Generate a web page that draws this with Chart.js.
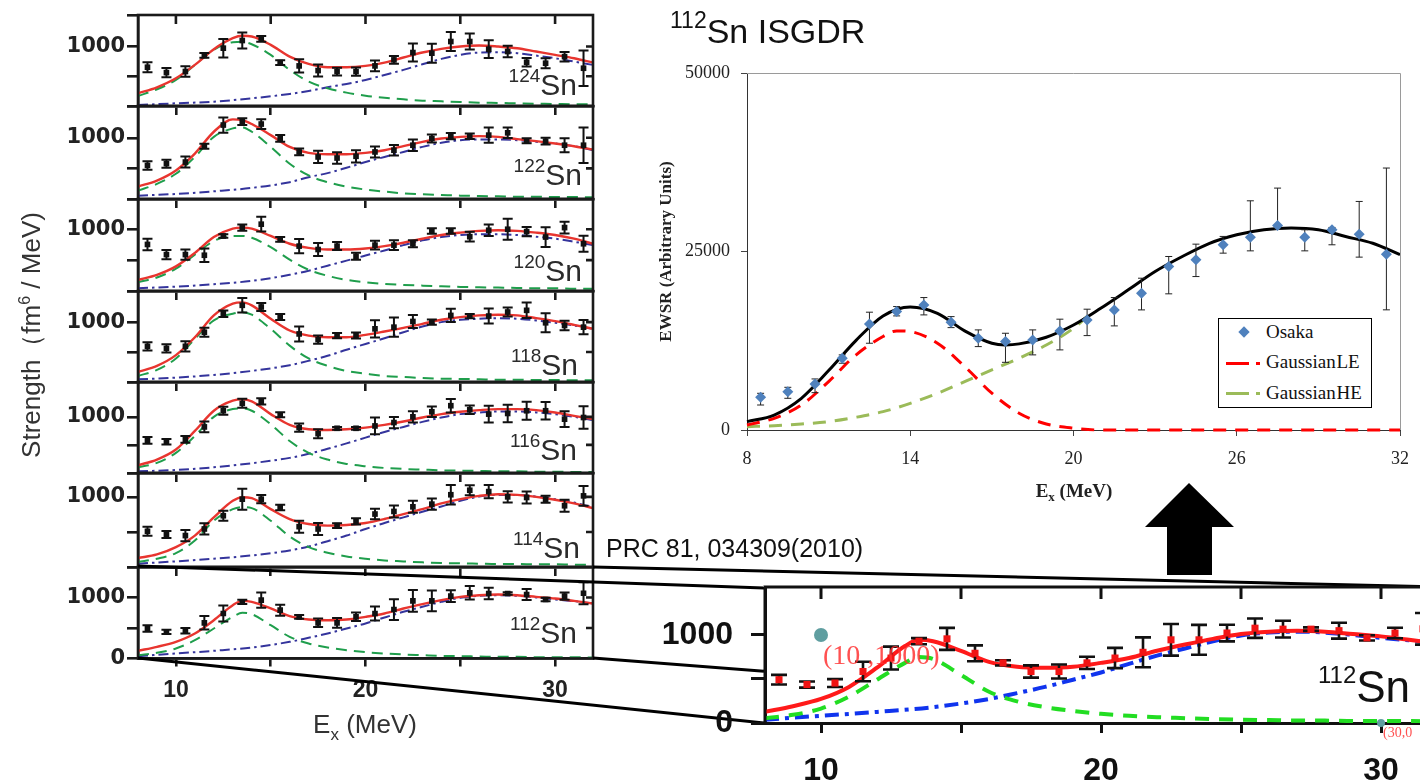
<!DOCTYPE html>
<html>
<head>
<meta charset="utf-8">
<title>112Sn ISGDR</title>
<script src="https://cdn.jsdelivr.net/npm/chart.js@4.4.1/dist/chart.umd.min.js"></script>
<style>
  html, body { margin:0; padding:0; background:#fff; }
  body { position:relative; width:1420px; height:783px; overflow:hidden; font-family:'Liberation Sans', Arial, sans-serif; }
  .abs { position:absolute; white-space:nowrap; }
  canvas { position:absolute; display:block; }
  .iso { position:absolute; width:100px; text-align:right; font-size:30px; line-height:30px; color:#2b2b2b; white-space:nowrap; z-index:4; }
  .iso sup { font-size:19px; vertical-align:13px; line-height:0; }
</style>
</head>
<body>

<svg class="abs" style="left:0;top:0;z-index:2" width="1420" height="783">
  <line x1="138" y1="566" x2="765" y2="588" stroke="#000" stroke-width="3"/>
  <line x1="593" y1="567" x2="1437" y2="587" stroke="#000" stroke-width="3"/>
  <line x1="593" y1="658" x2="1437" y2="723" stroke="#000" stroke-width="3"/>
  <line x1="138" y1="658" x2="765" y2="723" stroke="#000" stroke-width="3"/>
  <polygon points="1189,483 1234,527 1212,527 1212,575 1167,575 1167,527 1145,527" fill="#000"/>
</svg>

<!-- left figure texts -->
<div class="abs" style="left:31px;top:335px;transform:translate(-50%,-50%) rotate(-90deg);font-size:26px;line-height:26px;color:#333;z-index:4">Strength（fm<sup style="font-size:16px;line-height:0">6</sup> / MeV)</div>
<div class="abs" style="left:265px;width:200px;text-align:center;top:710.5px;font-size:26px;line-height:26px;color:#333;z-index:4">E<sub style="font-size:17px;vertical-align:-7px;line-height:0">x</sub> (MeV)</div>
<div class="iso" style="left:477px;top:69.6px"><sup>124</sup>Sn</div>
<div class="iso" style="left:482px;top:159.6px"><sup>122</sup>Sn</div>
<div class="iso" style="left:482px;top:255.6px"><sup>120</sup>Sn</div>
<div class="iso" style="left:478px;top:349.6px"><sup>118</sup>Sn</div>
<div class="iso" style="left:477px;top:434.6px"><sup>116</sup>Sn</div>
<div class="iso" style="left:480px;top:532.6px"><sup>114</sup>Sn</div>
<div class="iso" style="left:477px;top:617.6px"><sup>112</sup>Sn</div>

<!-- right figure texts -->
<div class="abs" style="left:670px;top:14px;font-size:34px;line-height:34px;color:#111;z-index:4"><sup style="font-size:23px;vertical-align:15px;line-height:0">112</sup>Sn ISGDR</div>
<div class="abs" style="left:974px;width:200px;text-align:center;top:481px;font-family:'Liberation Serif',serif;font-weight:bold;font-size:19px;line-height:19px;color:#222;z-index:4">E<sub style="font-size:13px;vertical-align:-4px;line-height:0">x</sub> (MeV)</div>
<div class="abs" style="left:606px;top:536px;font-size:25px;line-height:25px;color:#111;z-index:4">PRC 81, 034309(2010)</div>

<!-- legend of main chart -->
<div class="abs" style="left:1218px;top:318px;width:154px;height:90px;border:1px solid #000;box-sizing:border-box;background:#fff;z-index:4"></div>
<div class="abs" style="left:1240px;top:328px;width:8px;height:8px;background:#4f81bd;transform:rotate(45deg);z-index:5"></div>
<div class="abs" style="left:1266px;top:322px;font-family:'Liberation Serif',serif;font-size:19px;line-height:19px;color:#111;z-index:5">Osaka</div>
<div class="abs" style="left:1226px;top:361.5px;width:23px;height:3px;background:#ff0000;z-index:5"></div>
<div class="abs" style="left:1256px;top:361.5px;width:4px;height:3px;background:#ff0000;z-index:5"></div>
<div class="abs" style="left:1266px;top:352px;font-family:'Liberation Serif',serif;font-size:19px;line-height:19px;word-spacing:-4px;color:#111;z-index:5">Gaussian LE</div>
<div class="abs" style="left:1226px;top:391.5px;width:23px;height:3px;background:#9bbb59;z-index:5"></div>
<div class="abs" style="left:1256px;top:391.5px;width:4px;height:3px;background:#9bbb59;z-index:5"></div>
<div class="abs" style="left:1266px;top:383px;font-family:'Liberation Serif',serif;font-size:19px;line-height:19px;word-spacing:-4px;color:#111;z-index:5">Gaussian HE</div>

<!-- zoomed panel texts -->
<div class="abs" style="left:1318px;top:665px;font-size:44px;line-height:44px;color:#111;z-index:4"><sup style="font-size:24px;vertical-align:19px;line-height:0">112</sup>Sn</div>
<div class="abs" style="left:823px;top:641px;font-family:'Liberation Serif',serif;font-size:28px;line-height:28px;color:rgba(255,50,50,0.85);z-index:4">(10 ,1000)</div>
<div class="abs" style="left:1383px;top:726px;font-family:'Liberation Serif',serif;font-size:14px;line-height:14px;color:rgba(255,50,50,0.85);z-index:4">(30,0</div>

<script>
// ================= DATA =================
// energies of the measured points (MeV)
const pointEnergies = [8.5,9.5,10.5,11.5,12.5,13.5,14.5,15.5,16.5,17.5,18.5,19.5,20.5,21.5,22.5,23.5,24.5,25.5,26.5,27.5,28.5,29.5,30.5,31.5];
// energies where fitted curves were read
const curveEnergies = [8,9,10,11,12,13,13.5,14,15,16,17,18,19,20,21,22,23,24,25,26,27,28,29,30,31,32];
const highEnergies = [8,10,12,14,16,17,18,19,20,21,22,23,24,25,26,27,28,29,30,31,32];
// tick values
const panelXTicks = [10,15,20,25,30];
const panelYTicks = [0,500,1000];
const panelYMax = [1530,1520,1490,1520,1620,1340,1500];
const isotopeNames = ['124Sn','122Sn','120Sn','118Sn','116Sn','114Sn','112Sn'];

// 124Sn
const sn124Strength = [652,562,580,850,972,1101,1129,730,674,596,579,579,674,775,899,888,1084,1084,955,916,736,719,830,635];
const sn124Error    = [84,79,90,40,155,135,50,40,110,100,65,70,90,65,150,160,160,135,150,95,70,85,80,300];
const sn124Total    = [213,315,466,691,955,1140,1180,1169,1028,831,708,652,652,674,730,815,899,961,1000,1017,1000,972,916,860,803,730];
const sn124Low      = [169,281,438,691,944,1073,1080,1039,860,607,410,298,225,174,140,112,90,79,67,56,51,45,39,34,28,28];
const sn124High     = [17,45,73,129,202,253,315,371,438,522,607,702,792,860,899,904,888,848,803,747,691];
// 122Sn
const sn122Strength = [549,577,604,863,1209,1264,1225,989,769,687,670,698,769,797,879,989,1027,1027,1044,1082,951,945,879,879];
const sn122Error    = [70,65,90,40,125,55,80,55,55,100,95,100,90,85,95,65,50,45,125,85,40,55,115,290];
const sn122Total    = [203,302,467,742,1099,1302,1290,1225,1044,852,753,731,731,753,797,863,934,989,1016,1027,1016,978,945,907,863,808];
const sn122Low      = [137,247,412,687,1016,1154,1170,1099,852,577,385,275,203,154,121,93,77,66,55,49,44,38,38,33,33,27];
const sn122High     = [55,82,126,181,275,357,423,511,604,687,769,852,918,962,973,973,962,934,907,863,797];
// 120Sn
const sn120Strength = [754,590,590,579,891,1027,1082,836,727,672,727,563,743,743,765,973,973,880,984,1000,962,874,1027,765];
const sn120Error    = [93,75,82,110,30,50,120,40,115,105,65,55,70,80,55,45,45,80,95,170,75,160,95,130];
const sn120Total    = [180,262,399,617,874,1011,1027,1011,891,765,699,672,672,689,727,781,847,907,945,973,984,973,945,907,847,765];
const sn120Low      = [142,219,361,590,809,891,891,863,710,508,344,246,180,142,115,98,87,77,66,60,55,49,44,44,38,38];
const sn120High     = [44,71,109,164,262,328,410,492,574,656,743,820,874,907,918,918,907,880,847,798,743];
// 118Sn
const sn118Strength = [596,562,596,831,1140,1281,1253,1084,803,708,775,775,888,916,1011,1000,1112,1101,1101,1169,1197,989,944,916];
const sn118Error    = [70,70,85,75,55,120,65,50,125,70,45,50,145,160,110,45,110,35,125,75,130,160,80,120];
const sn118Total    = [169,270,449,747,1112,1309,1330,1281,1056,860,775,747,747,787,843,904,972,1039,1084,1112,1124,1112,1067,1017,955,888];
const sn118Low      = [101,202,393,719,1028,1140,1165,1124,888,607,393,270,185,140,101,84,67,56,51,45,39,39,34,34,28,28];
const sn118High     = [45,73,118,185,281,354,438,539,635,730,831,927,1000,1039,1056,1067,1056,1028,989,944,888];
// 116Sn
const sn116Strength = [581,557,599,820,1108,1240,1275,1036,808,700,796,796,838,898,1000,1090,1198,1126,1048,1060,1108,1108,958,988];
const sn116Error    = [60,50,60,95,70,80,55,45,75,80,25,25,150,100,100,95,120,75,150,155,160,155,140,200];
const sn116Total    = [138,240,419,749,1108,1287,1310,1275,1048,856,778,766,778,808,856,916,988,1048,1090,1120,1138,1138,1120,1078,1018,958];
const sn116Low      = [102,180,359,659,1000,1138,1150,1108,868,569,359,240,162,120,90,72,60,48,42,36,30,30,24,24,18,18];
const sn116High     = [30,54,102,174,269,341,431,527,629,731,820,910,988,1048,1078,1096,1096,1078,1048,1000,940];
// 114Sn
const sn114Strength = [509,462,448,542,731,967,967,849,575,542,590,651,755,792,858,896,1030,1094,1075,1000,991,967,873,1014];
const sn114Error    = [65,50,80,80,70,150,60,40,85,85,35,45,75,85,85,80,140,70,95,80,85,50,85,140];
const sn114Total    = [127,179,283,448,708,943,995,981,825,684,613,590,599,627,684,755,825,906,967,1014,1038,1028,1000,958,906,840];
const sn114Low      = [71,118,198,377,660,825,855,840,660,434,283,203,151,118,94,80,66,57,52,47,42,42,38,38,33,33];
const sn114High     = [47,80,118,165,236,292,368,448,542,627,708,788,863,943,1005,1028,1028,1005,967,920,849];
// 112Sn
const sn112Strength = [492,437,454,585,738,929,956,792,683,585,585,683,738,803,945,945,1022,1077,1066,1066,1049,967,1022,1070];
const sn112Error    = [55,35,45,110,130,35,125,90,30,70,80,70,115,170,180,170,95,110,95,20,90,30,60,180];
const sn112Total    = [126,191,273,410,628,874,945,929,820,694,639,628,639,683,738,820,891,956,1011,1038,1049,1038,1011,984,945,902];
const sn112Low      = [55,93,164,300,492,683,749,727,546,355,246,180,137,104,82,66,55,44,38,33,27,27,22,22,22,16];
const sn112High     = [38,82,126,180,273,339,410,492,574,672,765,847,929,995,1027,1038,1027,1000,967,940,902];

// 112Sn ISGDR (EWSR, arbitrary units)
const osakaEnergy = [8.5,9.5,10.5,11.5,12.5,13.5,14.5,15.5,16.5,17.5,18.5,19.5,20.5,21.5,22.5,23.5,24.5,25.5,26.5,27.5,28.5,29.5,30.5,31.5];
const osakaEWSR   = [4580,5370,6450,10050,14860,16590,17520,15090,12850,12380,12620,13880,15420,16820,19160,22900,23830,25940,27010,28650,27010,28040,27430,24630];
const osakaErrUp  = [560,610,700,470,1640,700,1030,790,1170,1170,1400,1640,1500,1730,2100,1400,2200,1170,5090,5230,1030,330,4580,12060];
const osakaErrDn  = [1080,930,1220,700,2710,610,1400,750,1170,2900,2100,2660,2200,2240,2340,3830,2340,1170,1920,500,1920,2100,3220,7800];
const fitEnergy   = [8,9,10,11,12,13,14,15,16,17,17.5,18,19,20,21,22,23,24,25,26,27,28,29,30,31,32];
const fitTotal    = [1170,2100,4440,8320,12520,15980,17240,16350,13880,12150,11920,12060,12990,14700,17050,19600,22200,24300,26150,27350,28050,28300,28050,27100,26150,24550];
const leEnergy    = [8,9,10,11,12,13,13.5,14,15,16,17,18,19,20,21,32];
const gaussLE     = [700,1640,3500,6780,10500,13100,13880,13790,12150,8900,5150,2350,850,250,0,0];
const heEnergy    = [8,9,10,11,12,13,14,15,16,17,18,19,20,20.5];
const gaussHE     = [470,610,840,1170,1780,2570,3740,5140,6780,8410,10050,11900,14250,15900];
const mainXTicks  = [8,14,20,26,32];
const mainYTicks  = [0,25000,50000];
const zoomYTicks  = [0,500,1000];
const zoomYMax    = 1545;
const calibX      = [10,30];
const calibY      = [1000,0];

// ================= HELPERS =================
const xy = (xs, ys) => xs.map((x, i) => ({x: x, y: ys[i]}));
function makeCanvas(left, top, w, h, z) {
  const c = document.createElement('canvas');
  c.width = w; c.height = h;
  c.style.left = left + 'px'; c.style.top = top + 'px';
  c.style.width = w + 'px'; c.style.height = h + 'px';
  c.style.zIndex = z;
  document.body.appendChild(c);
  return c;
}
const base = { responsive:false, animation:false, devicePixelRatio:1, events:[],
  plugins:{ legend:{display:false}, tooltip:{enabled:false} } };

const errorBars = {
  id:'errorBars',
  beforeDatasetDraw(chart, args) {
    const ds = chart.data.datasets[args.index];
    if (!ds.errUp) return;
    const ctx = chart.ctx, xs = chart.scales.x, ys = chart.scales.y;
    ctx.save();
    ctx.strokeStyle = ds.errColor; ctx.lineWidth = ds.errWidth;
    ds.data.forEach((p, i) => {
      const x = xs.getPixelForValue(p.x);
      if (x > chart.chartArea.right + 5) return;
      const yt = ys.getPixelForValue(p.y + ds.errUp[i]);
      const yb = ys.getPixelForValue(p.y - ds.errDn[i]);
      const c = ds.errCap;
      ctx.beginPath();
      ctx.moveTo(x, yt); ctx.lineTo(x, yb);
      ctx.moveTo(x - c, yt); ctx.lineTo(x + c, yt);
      ctx.moveTo(x - c, yb); ctx.lineTo(x + c, yb);
      ctx.stroke();
    });
    ctx.restore();
  }
};

const panelFrame = {
  id:'panelFrame',
  afterDraw(chart, args, o) {
    const {ctx, chartArea:a, scales:{x, y}} = chart;
    ctx.save();
    ctx.strokeStyle = '#1a1a1a'; ctx.lineWidth = 2.6;
    ctx.strokeRect(a.left, a.top, a.right - a.left, a.bottom - a.top);
    ctx.beginPath();
    panelYTicks.slice(1).forEach(v => { const py = y.getPixelForValue(v); ctx.moveTo(a.right, py); ctx.lineTo(a.right - 7, py); });
    if (o.topTicks) panelXTicks.forEach(v => { const px = x.getPixelForValue(v); ctx.moveTo(px, a.top); ctx.lineTo(px, a.top + 9); });
    ctx.stroke();
    ctx.restore();
  }
};

// ================= LEFT FIGURE: 7 PANELS =================
const PANEL_TOP = [15, 106, 199, 291, 382, 473, 567];
const PANEL_BOTTOM = 658.5;
const panelSeries = [
  [sn124Strength, sn124Error, sn124Total, sn124Low, sn124High],
  [sn122Strength, sn122Error, sn122Total, sn122Low, sn122High],
  [sn120Strength, sn120Error, sn120Total, sn120Low, sn120High],
  [sn118Strength, sn118Error, sn118Total, sn118Low, sn118High],
  [sn116Strength, sn116Error, sn116Total, sn116Low, sn116High],
  [sn114Strength, sn114Error, sn114Total, sn114Low, sn114High],
  [sn112Strength, sn112Error, sn112Total, sn112Low, sn112High]
];

panelSeries.forEach((s, i) => {
  const top = PANEL_TOP[i];
  const bottom = i < 6 ? PANEL_TOP[i + 1] : PANEL_BOTTOM;
  const h = bottom - top, last = (i === 6), padTop = 12;
  const cvH = Math.ceil(padTop + h + (last ? 52 : 12));
  const xH = cvH - padTop - h;
  const ymax = panelYMax[i];
  const cv = makeCanvas(0, top - padTop, 600, cvH, 1);
  new Chart(cv, {
    type:'scatter',
    data:{ datasets:[
      { label:isotopeNames[i] + ' data', data:xy(pointEnergies, s[0]), pointStyle:'rect', pointRadius:4,
        backgroundColor:'#111', borderColor:'#111', borderWidth:0,
        errUp:s[1], errDn:s[1], errWidth:2, errCap:5, errColor:'#111' },
      { label:'total', type:'line', data:xy(curveEnergies, s[2]), borderColor:'#e8352f', borderWidth:2.4,
        pointRadius:0, cubicInterpolationMode:'monotone', fill:false },
      { label:'ISGDR LE', type:'line', data:xy(curveEnergies, s[3]), borderColor:'#1f9e4c', borderWidth:2,
        borderDash:[11,7], pointRadius:0, cubicInterpolationMode:'monotone', fill:false },
      { label:'ISGDR HE', type:'line', data:xy(highEnergies, s[4]), borderColor:'#34349c', borderWidth:2,
        borderDash:[10,4,2.5,4], pointRadius:0, cubicInterpolationMode:'monotone', fill:false }
    ]},
    options:Object.assign({}, base, {
      layout:{ padding:{ left:0, right:7, top:padTop, bottom:0 } },
      plugins:Object.assign({}, base.plugins, { panelFrame:{ topTicks: i === 0 } }),
      scales:{
        x:{ type:'linear', min:8, max:32,
          afterBuildTicks:sc => { sc.ticks = panelXTicks.map(v => ({value:v})); },
          afterFit:sc => { sc.height = xH; },
          grid:{ drawOnChartArea:false, drawTicks:true, tickLength:last ? 8 : 9, color:'#1a1a1a', lineWidth:2.6 },
          border:{ display:true, color:'#1a1a1a', width:2.6 },
          ticks:{ display:last, autoSkip:false, maxRotation:0, padding:10,
            callback:v => (v % 10 === 0 ? String(v) : []),
            font:{ family:'Liberation Sans', weight:'bold', size:23 }, color:'#222' } },
        y:{ type:'linear', min:0, max:ymax,
          afterBuildTicks:sc => { sc.ticks = panelYTicks.concat([ymax]).map(v => ({value:v})); },
          afterFit:sc => { sc.width = 138; },
          grid:{ drawOnChartArea:false, drawTicks:true, tickLength:11, color:'#1a1a1a', lineWidth:2.6 },
          border:{ display:true, color:'#1a1a1a', width:2.6 },
          ticks:{ padding:2, callback:v => (v === 1000 ? '1000' : (v === 0 && last ? '0' : [])),
            font:{ family:'DejaVu Sans', weight:'bold', size:21 }, color:'#222' } }
      }
    }),
    plugins:[errorBars, panelFrame]
  });
});

// ================= MAIN CHART: 112Sn ISGDR =================
const mainFrame = {
  id:'mainFrame',
  afterDraw(chart) {
    const {ctx, chartArea:a} = chart;
    ctx.save();
    ctx.strokeStyle = '#9a9a9a'; ctx.lineWidth = 1;
    ctx.beginPath();
    ctx.moveTo(a.left, a.top + 0.5); ctx.lineTo(a.right + 0.5, a.top + 0.5); ctx.lineTo(a.right + 0.5, a.bottom);
    ctx.stroke();
    ctx.restore();
  }
};
new Chart(makeCanvas(655, 51, 766, 464, 3), {
  type:'scatter',
  data:{ datasets:[
    { label:'Osaka', data:xy(osakaEnergy, osakaEWSR), pointStyle:'rectRot', pointRadius:5.5,
      backgroundColor:'#4f81bd', borderColor:'#4f81bd', borderWidth:0,
      errUp:osakaErrUp, errDn:osakaErrDn, errWidth:1, errCap:3.5, errColor:'#222' },
    { label:'Total', type:'line', data:xy(fitEnergy, fitTotal), borderColor:'#000', borderWidth:3,
      pointRadius:0, cubicInterpolationMode:'monotone', fill:false, clip:false },
    { label:'Gaussian LE', type:'line', data:xy(leEnergy, gaussLE), borderColor:'#ff0000', borderWidth:3,
      borderDash:[13,9], pointRadius:0, cubicInterpolationMode:'monotone', fill:false, clip:false },
    { label:'Gaussian HE', type:'line', data:xy(heEnergy, gaussHE), borderColor:'#9bbb59', borderWidth:3,
      borderDash:[13,9], pointRadius:0, cubicInterpolationMode:'monotone', fill:false, clip:false }
  ]},
  options:Object.assign({}, base, {
    layout:{ padding:{ left:0, right:21, top:22, bottom:0 } },
    scales:{
      x:{ type:'linear', min:8, max:32,
        afterBuildTicks:sc => { sc.ticks = mainXTicks.map(v => ({value:v})); },
        afterFit:sc => { sc.height = 85; },
        grid:{ drawOnChartArea:false, tickLength:6, color:'#444', lineWidth:1 },
        border:{ color:'#333', width:1 },
        ticks:{ autoSkip:false, maxRotation:0, padding:12, font:{ family:'Liberation Serif', size:18 }, color:'#222' } },
      y:{ type:'linear', min:0, max:50000,
        afterBuildTicks:sc => { sc.ticks = mainYTicks.map(v => ({value:v})); },
        afterFit:sc => { sc.width = 92; },
        grid:{ drawOnChartArea:false, tickLength:6, color:'#444', lineWidth:1 },
        border:{ color:'#333', width:1 },
        ticks:{ padding:11, callback:v => String(v), font:{ family:'Liberation Serif', size:18 }, color:'#222' },
        title:{ display:true, text:'EWSR (Arbitrary Units)', color:'#222', padding:{ top:1, bottom:0 },
          font:{ family:'Liberation Serif', size:17, weight:'bold' } } }
    }
  }),
  plugins:[errorBars, mainFrame]
});

// ================= ZOOMED 112Sn PANEL =================
const zoomFrame = {
  id:'zoomFrame',
  beforeDraw(chart) {
    const {ctx, chartArea:a} = chart;
    ctx.save(); ctx.fillStyle = '#fff';
    ctx.fillRect(a.left, a.top - 1, a.right - a.left + 30, a.bottom - a.top + 2);
    ctx.restore();
  },
  afterDraw(chart) {
    const {ctx, chartArea:a, scales:{x}} = chart;
    ctx.save();
    ctx.strokeStyle = '#111'; ctx.lineWidth = 3;
    ctx.beginPath();
    ctx.moveTo(a.left, a.bottom); ctx.lineTo(a.left, a.top); ctx.lineTo(a.right + 30, a.top);
    panelXTicks.forEach(v => { const px = x.getPixelForValue(v); ctx.moveTo(px, a.top); ctx.lineTo(px, a.top + 12); });
    ctx.stroke();
    ctx.restore();
  }
};
new Chart(makeCanvas(640, 567, 820, 216, 3), {
  type:'scatter',
  data:{ datasets:[
    { label:'calibration', data:xy(calibX, calibY), pointStyle:'circle', pointRadius:[7,4],
      backgroundColor:'#5f9ea0', borderWidth:0, clip:false },
    { label:'112Sn data', data:xy(pointEnergies, sn112Strength), pointStyle:'rect', pointRadius:5,
      backgroundColor:'#f01414', borderColor:'#f01414', borderWidth:0,
      errUp:sn112Error, errDn:sn112Error, errWidth:2.6, errCap:8, errColor:'#111' },
    { label:'total', type:'line', data:xy(curveEnergies, sn112Total), borderColor:'#ff1a1a', borderWidth:4,
      pointRadius:0, cubicInterpolationMode:'monotone', fill:false },
    { label:'ISGDR LE', type:'line', data:xy(curveEnergies, sn112Low), borderColor:'#22dd22', borderWidth:4,
      borderDash:[14,10], pointRadius:0, cubicInterpolationMode:'monotone', fill:false },
    { label:'ISGDR HE', type:'line', data:xy(highEnergies, sn112High), borderColor:'#1034ee', borderWidth:4,
      borderDash:[14,6,4,6], pointRadius:0, cubicInterpolationMode:'monotone', fill:false }
  ]},
  options:Object.assign({}, base, {
    layout:{ padding:{ left:0, right:23, top:20, bottom:0 } },
    scales:{
      x:{ type:'linear', min:8, max:32,
        afterBuildTicks:sc => { sc.ticks = panelXTicks.map(v => ({value:v})); },
        afterFit:sc => { sc.height = 60; },
        grid:{ drawOnChartArea:false, tickLength:10, color:'#111', lineWidth:3 },
        border:{ color:'#111', width:3 },
        ticks:{ autoSkip:false, maxRotation:0, padding:19, callback:v => (v % 10 === 0 ? String(v) : []),
          font:{ family:'Liberation Sans', weight:'bold', size:32 }, color:'#111' } },
      y:{ type:'linear', min:0, max:zoomYMax,
        afterBuildTicks:sc => { sc.ticks = zoomYTicks.concat([zoomYMax]).map(v => ({value:v})); },
        afterFit:sc => { sc.width = 125; },
        grid:{ drawOnChartArea:false, tickLength:14, lineWidth:3,
          color:c => (c.tick && c.tick.value === zoomYMax ? 'rgba(0,0,0,0)' : '#111') },
        border:{ color:'#111', width:3 },
        ticks:{ padding:18, callback:v => (v === 1000 ? '1000' : (v === 0 ? '0' : [])),
          font:{ family:'Liberation Sans', weight:'bold', size:32 }, color:'#111' } }
    }
  }),
  plugins:[errorBars, zoomFrame]
});
</script>
</body>
</html>
